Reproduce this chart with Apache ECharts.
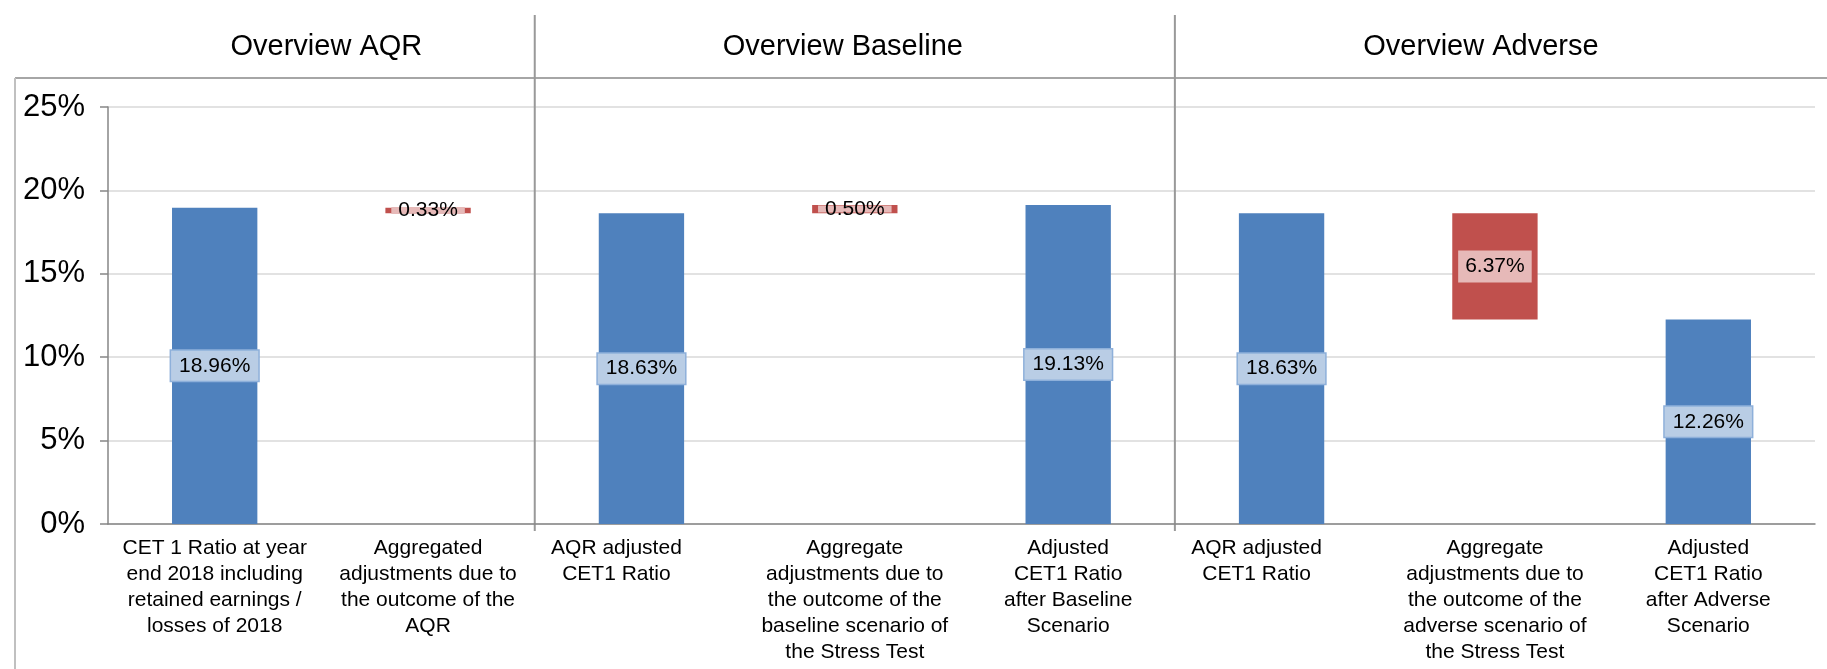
<!DOCTYPE html>
<html>
<head>
<meta charset="utf-8">
<script src="https://cdn.jsdelivr.net/npm/echarts@6/dist/echarts.min.js"></script>
<style>
html,body{margin:0;padding:0;background:#fff;}
#chart{width:1827px;height:669px;}
</style>
</head>
<body>
<div id="chart"></div>
<script>
const categories = [
  'CET 1 Ratio at year\nend 2018 including\nretained earnings /\nlosses of 2018',
  'Aggregated\nadjustments due to\nthe outcome of the\nAQR',
  'AQR adjusted\nCET1 Ratio',
  'Aggregate\nadjustments due to\nthe outcome of the\nbaseline scenario of\nthe Stress Test',
  'Adjusted\nCET1 Ratio\nafter Baseline\nScenario',
  'AQR adjusted\nCET1 Ratio',
  'Aggregate\nadjustments due to\nthe outcome of the\nadverse scenario of\nthe Stress Test',
  'Adjusted\nCET1 Ratio\nafter Adverse\nScenario'
];
const totals      = [18.96, null, 18.63, null, 19.13, 18.63, null, 12.26];
const changeStart = [null, 18.96, null, 18.63, null, null, 18.63, null];
const changeEnd   = [null, 18.63, null, 19.13, null, null, 12.26, null];
const groupTitles = ['Overview AQR', 'Overview Baseline', 'Overview Adverse'];
const groupSpans  = [[0, 1], [2, 4], [5, 7]];
const yTicks = { min: 0, max: 25, interval: 5 };

const FONT = '"Liberation Sans", Arial, sans-serif';
const BLUE = '#4f81bd', RED = '#c0504d';

const baseData = categories.map((c, i) => changeStart[i] == null ? 0 : Math.min(changeStart[i], changeEnd[i]));
const totalData = totals.map(v => v == null ? '-' : v);
const deltaData = categories.map((c, i) => {
  if (changeStart[i] == null) return '-';
  const d = Math.abs(changeEnd[i] - changeStart[i]);
  const thin = d < 1;
  return {
    value: d,
    label: thin ? { lineHeight: 7, padding: [0, 7, 0, 7] } : { lineHeight: 24, padding: [4, 7, 4, 7] }
  };
});

const chart = echarts.init(document.getElementById('chart'), null, { renderer: 'canvas' });
const option = {
  animation: false,
  backgroundColor: '#fff',
  textStyle: { fontFamily: FONT },
  grid: { left: 108, right: 12, top: 107, bottom: 145, containLabel: false },
  xAxis: {
    type: 'category',
    data: categories,
    axisLine: { lineStyle: { color: '#868686', width: 1.5 } },
    axisTick: { length: 7, lineStyle: { color: '#868686', width: 1.5 } },
    axisLabel: {
      interval: 0,
      margin: 11,
      fontSize: 21,
      lineHeight: 26,
      color: '#000',
      fontFamily: FONT,
      formatter: function (value, index) {
        if (index === 2 || index === 5) {
          return value.split('\n').map(l => '{s|' + l + '}').join('\n');
        }
        return value;
      },
      rich: {
        s: { fontSize: 21, lineHeight: 26, color: '#000', fontFamily: FONT, padding: [0, 50, 0, 0] }
      }
    }
  },
  yAxis: {
    type: 'value',
    min: yTicks.min, max: yTicks.max, interval: yTicks.interval,
    axisLine: { show: true, lineStyle: { color: '#868686', width: 1.5 } },
    axisTick: { show: true, length: 8, lineStyle: { color: '#868686', width: 1.5 } },
    splitLine: { lineStyle: { color: '#d9d9d9', width: 1.5 } },
    axisLabel: { formatter: '{value}%', fontSize: 31, color: '#000', margin: 23, fontFamily: FONT }
  },
  series: [
    {
      name: 'base', type: 'bar', stack: 'w', barWidth: '40%',
      itemStyle: { color: 'rgba(0,0,0,0)' },
      emphasis: { disabled: true },
      data: baseData
    },
    {
      name: 'total', type: 'bar', stack: 'w', barWidth: '40%',
      itemStyle: { color: BLUE },
      label: {
        show: true, position: 'inside',
        formatter: p => p.value.toFixed(2) + '%',
        fontSize: 21, lineHeight: 24, color: '#000', fontFamily: FONT,
        backgroundColor: '#b9cde5', borderColor: '#8eb0da', borderWidth: 1.5,
        padding: [3, 8, 3, 8]
      },
      data: totalData
    },
    {
      name: 'delta', type: 'bar', stack: 'w', barWidth: '40%',
      itemStyle: { color: RED },
      label: {
        show: true, position: 'inside',
        formatter: p => (+p.value).toFixed(2) + '%',
        fontSize: 21, color: '#000', fontFamily: FONT,
        backgroundColor: '#e6b9b8'
      },
      data: deltaData
    }
  ]
};
chart.setOption(option);

// decorations: group separators, titles, frame
const px = i => chart.convertToPixel({ xAxisIndex: 0 }, i);
const step = px(1) - px(0);
const yBottom = chart.convertToPixel({ yAxisIndex: 0 }, 0);
const graphics = [];
graphics.push({ type: 'line', shape: { x1: 15, y1: 78, x2: 1827, y2: 78 }, style: { stroke: '#a6a6a6', lineWidth: 2 } });
graphics.push({ type: 'line', shape: { x1: 15, y1: 78, x2: 15, y2: 669 }, style: { stroke: '#c0c0c0', lineWidth: 2 } });
const titleOffsets = [5, -12, -14];
groupSpans.forEach((s, gi) => {
  const left = px(s[0]) - step / 2;
  const right = px(s[1]) + step / 2;
  if (gi > 0) {
    graphics.push({ type: 'line', shape: { x1: left, y1: 15, x2: left, y2: yBottom + 7 }, style: { stroke: '#999', lineWidth: 2 } });
  }
  graphics.push({
    type: 'text', x: (left + right) / 2 + titleOffsets[gi], y: 47,
    style: { text: groupTitles[gi], fontSize: 29, fontFamily: FONT, fill: '#000', textAlign: 'center', textVerticalAlign: 'middle' }
  });
});
chart.setOption({ graphic: graphics });
</script>
</body>
</html>
